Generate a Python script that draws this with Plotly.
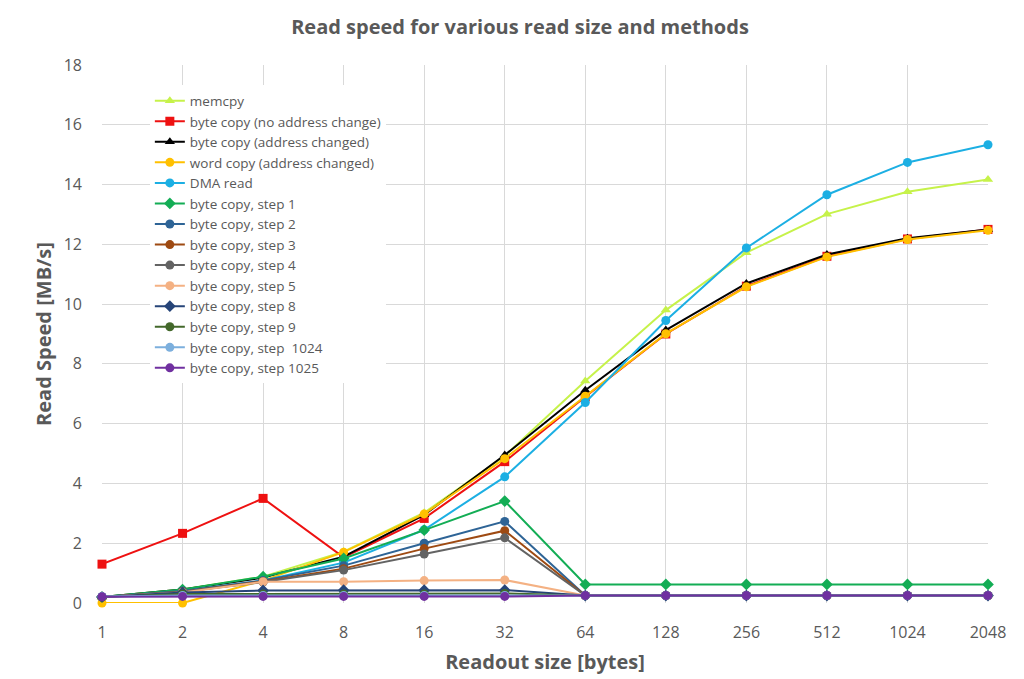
import plotly.graph_objects as go

sizes = ["1", "2", "4", "8", "16", "32", "64", "128", "256", "512", "1024", "2048"]

memcpy = [0.2, 0.45, 0.88, 1.72, 3.02, 4.92, 7.43, 9.8, 11.72, 13.01, 13.76, 14.17]
byte_no_addr = [1.3, 2.33, 3.5, 1.53, 2.83, 4.73, 6.9, 9.0, 10.6, 11.6, 12.18, 12.5]
byte_addr = [0.2, 0.45, 0.85, 1.55, 2.95, 4.95, 7.12, 9.13, 10.69, 11.66, 12.2, 12.5]
word_addr = [0.0, 0.0, 0.75, 1.7, 2.98, 4.83, 6.92, 9.01, 10.58, 11.58, 12.16, 12.47]
dma_read = [0.2, 0.4, 0.75, 1.35, 2.45, 4.22, 6.71, 9.45, 11.88, 13.66, 14.74, 15.33]
step1 = [0.2, 0.45, 0.88, 1.49, 2.44, 3.41, 0.62, 0.62, 0.62, 0.62, 0.62, 0.62]
step2 = [0.2, 0.4, 0.75, 1.25, 2.0, 2.73, 0.25, 0.25, 0.25, 0.25, 0.25, 0.25]
step3 = [0.2, 0.38, 0.72, 1.15, 1.82, 2.42, 0.25, 0.25, 0.25, 0.25, 0.25, 0.25]
step4 = [0.2, 0.38, 0.7, 1.1, 1.64, 2.18, 0.25, 0.25, 0.25, 0.25, 0.25, 0.25]
step5 = [0.2, 0.35, 0.71, 0.71, 0.75, 0.77, 0.25, 0.25, 0.25, 0.25, 0.25, 0.25]
step8 = [0.2, 0.35, 0.42, 0.43, 0.43, 0.43, 0.25, 0.25, 0.25, 0.25, 0.25, 0.25]
step9 = [0.2, 0.3, 0.3, 0.3, 0.3, 0.32, 0.25, 0.25, 0.25, 0.25, 0.25, 0.25]
step1024 = [0.22, 0.25, 0.25, 0.25, 0.25, 0.25, 0.25, 0.25, 0.25, 0.25, 0.25, 0.25]
step1025 = [0.21, 0.22, 0.22, 0.22, 0.22, 0.22, 0.25, 0.25, 0.25, 0.25, 0.25, 0.25]

series = [
    ("memcpy", memcpy, "#C6F24A", "triangle-up", 9),
    ("byte copy (no address change)", byte_no_addr, "#EE1111", "square", 9),
    ("byte copy (address changed)", byte_addr, "#000000", "triangle-up", 9),
    ("word copy (address changed)", word_addr, "#FFC000", "circle", 9),
    ("DMA read", dma_read, "#1CAFE3", "circle", 9),
    ("byte copy, step 1", step1, "#13AD55", "diamond", 9),
    ("byte copy, step 2", step2, "#2E6496", "circle", 9),
    ("byte copy, step 3", step3, "#9E4A12", "circle", 9),
    ("byte copy, step 4", step4, "#636363", "circle", 9),
    ("byte copy, step 5", step5, "#F4B183", "circle", 9),
    ("byte copy, step 8", step8, "#264478", "diamond", 9),
    ("byte copy, step 9", step9, "#43682B", "circle", 9),
    ("byte copy, step  1024", step1024, "#7CAFDD", "circle", 9),
    ("byte copy, step 1025", step1025, "#7030A0", "circle", 9),
]

fig = go.Figure()
for name, vals, color, sym, sz in series:
    fig.add_trace(go.Scatter(
        x=sizes, y=vals, name=name, mode="lines+markers",
        line=dict(color=color, width=2),
        marker=dict(color=color, symbol=sym, size=sz),
        cliponaxis=False,
    ))

font = "'Open Sans', sans-serif"
fig.update_layout(
    width=1024, height=679,
    margin=dict(l=94, r=44, t=57, b=84),
    paper_bgcolor="white", plot_bgcolor="white",
    font=dict(family=font, color="#595959", size=16),
    title=dict(text="<b>Read speed for various read size and methods</b>",
               x=0.5, xanchor="center", y=0.972, yanchor="middle",
               font=dict(size=20, color="#595959")),
    showlegend=True,
    legend=dict(x=0.054, y=0.962, xanchor="left", yanchor="top",
                bgcolor="white", font=dict(size=13.5, color="#595959"),
                itemwidth=30, tracegroupgap=0),
    xaxis=dict(type="category", range=[0, 11], showgrid=True,
               gridcolor="#D9D9D9", gridwidth=1, zeroline=False,
               showline=False, ticks="", tickfont=dict(size=16),
               ticklabelstandoff=18,
               title=dict(text="<b>Readout size [bytes]</b>", font=dict(size=20), standoff=12)),
    yaxis=dict(range=[0, 18], dtick=2, showgrid=True, gridcolor="#D9D9D9",
               gridwidth=1, zeroline=False, showline=False, ticks="",
               tickfont=dict(size=16), ticklabelstandoff=19,
               title=dict(text="<b>Read Speed [MB/s]</b>", font=dict(size=20), standoff=6)),
)

fig.write_html("out.html")
